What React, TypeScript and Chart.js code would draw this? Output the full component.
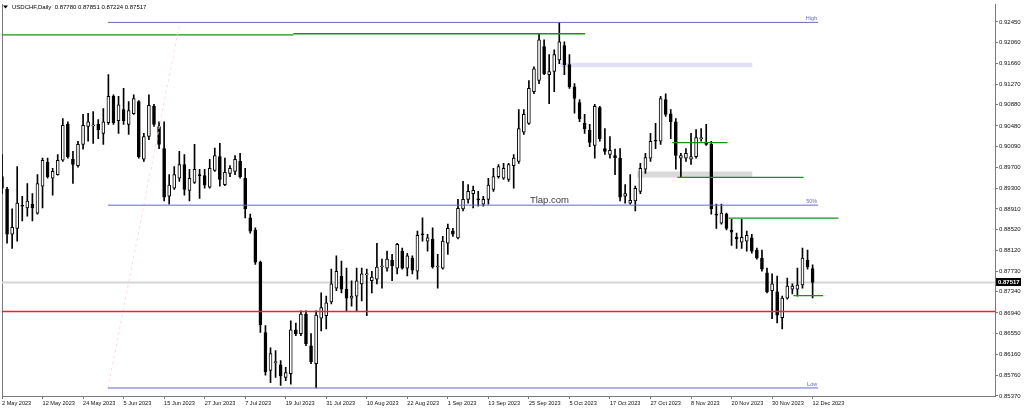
import React, { useEffect, useRef } from 'react';
import { Chart, registerables } from 'chart.js';

Chart.register(...registerables);

// ---------- data ----------
const symbolName = 'USDCHF';
const periodName = 'Daily';

const dateTickIndex = [0, 8, 16, 24, 32, 40, 48, 56, 64, 72, 80, 88, 96, 104, 112, 120, 128, 136, 144, 152, 160];
const dateTickLabels = [
  '2 May 2023', '12 May 2023', '24 May 2023', '5 Jun 2023', '15 Jun 2023', '27 Jun 2023', '7 Jul 2023',
  '19 Jul 2023', '31 Jul 2023', '10 Aug 2023', '22 Aug 2023', '1 Sep 2023', '13 Sep 2023', '25 Sep 2023',
  '5 Oct 2023', '17 Oct 2023', '27 Oct 2023', '8 Nov 2023', '20 Nov 2023', '30 Nov 2023', '12 Dec 2023',
];

const priceTicks = [
  0.9245, 0.9206, 0.9166, 0.9127, 0.9088, 0.9048, 0.9009, 0.897, 0.893, 0.8891,
  0.8852, 0.8812, 0.8773, 0.8734, 0.8694, 0.8655, 0.8616, 0.8576, 0.8537,
];

const openP = [
  0.8952, 0.8928, 0.8843, 0.8854, 0.8897, 0.8893, 0.8900, 0.8883, 0.8934, 0.8979,
  0.8949, 0.8956, 0.8983, 0.9051, 0.8985, 0.8973, 0.9013, 0.9047, 0.9048, 0.9051,
  0.9034, 0.9054, 0.9104, 0.9058, 0.9079, 0.9051, 0.9071, 0.9094, 0.8985, 0.9028,
  0.9085, 0.9047, 0.9005, 0.8915, 0.8930, 0.8949, 0.8975, 0.8926, 0.8941, 0.8956,
  0.8954, 0.8932, 0.8964, 0.8990, 0.8937, 0.8958, 0.8962, 0.8981, 0.8949, 0.8874,
  0.8851, 0.8790, 0.8657, 0.8585, 0.8600, 0.8596, 0.8572, 0.8579, 0.8662, 0.8655,
  0.8692, 0.8632, 0.8598, 0.8684, 0.8689, 0.8715, 0.8741, 0.8764, 0.8739, 0.8722,
  0.8726, 0.8749, 0.8766, 0.8755, 0.8758, 0.8781, 0.8779, 0.8794, 0.8779, 0.8811,
  0.8779, 0.8798, 0.8773, 0.8843, 0.8830, 0.8834, 0.8781, 0.8779, 0.8826, 0.8849,
  0.8836, 0.8891, 0.8909, 0.8920, 0.8909, 0.8900, 0.8909, 0.8928, 0.8952, 0.8949,
  0.8947, 0.8973, 0.8981, 0.9036, 0.9053, 0.9113, 0.9134, 0.9198, 0.9145, 0.9151,
  0.9173, 0.9200, 0.9164, 0.9122, 0.9092, 0.9053, 0.9040, 0.9011, 0.9083, 0.9005,
  0.8994, 0.8992, 0.8987, 0.8915, 0.8902, 0.8906, 0.8924, 0.8966, 0.8987, 0.9021,
  0.9019, 0.9098, 0.9071, 0.9056, 0.8987, 0.8987, 0.8985, 0.8990, 0.9024, 0.9017,
  0.9013, 0.8881, 0.8864, 0.8881, 0.8851, 0.8837, 0.8828, 0.8830, 0.8836, 0.8813,
  0.8798, 0.8770, 0.8736, 0.8734, 0.8685, 0.8722, 0.8739, 0.8739, 0.8747, 0.8794,
  0.8778,
];
const highP = [
  0.8994, 0.8932, 0.8891, 0.8971, 0.8915, 0.8939, 0.8920, 0.8956, 0.8987, 0.8987,
  0.8968, 0.8994, 0.9062, 0.9056, 0.9000, 0.9019, 0.9070, 0.9072, 0.9075, 0.9060,
  0.9081, 0.9145, 0.9107, 0.9104, 0.9119, 0.9094, 0.9107, 0.9096, 0.9034, 0.9107,
  0.9089, 0.9056, 0.9056, 0.8956, 0.8971, 0.9000, 0.8994, 0.8966, 0.9013, 0.8966,
  0.8966, 0.8985, 0.9006, 0.9015, 0.8987, 0.8973, 0.8992, 0.8996, 0.8968, 0.8881,
  0.8855, 0.8792, 0.8670, 0.8628, 0.8623, 0.8604, 0.8591, 0.8679, 0.8675, 0.8698,
  0.8698, 0.8655, 0.8698, 0.8732, 0.8726, 0.8777, 0.8802, 0.8792, 0.8779, 0.8755,
  0.8779, 0.8779, 0.8777, 0.8773, 0.8826, 0.8796, 0.8811, 0.8805, 0.8826, 0.8817,
  0.8807, 0.8802, 0.8849, 0.8874, 0.8843, 0.8855, 0.8805, 0.8839, 0.8862, 0.8854,
  0.8909, 0.8943, 0.8937, 0.8934, 0.8924, 0.8915, 0.8949, 0.8968, 0.8975, 0.8977,
  0.8977, 0.8994, 0.9079, 0.9079, 0.9134, 0.9160, 0.9222, 0.9211, 0.9183, 0.9192,
  0.9244, 0.9207, 0.9183, 0.9128, 0.9098, 0.9070, 0.9051, 0.9089, 0.9085, 0.9043,
  0.9028, 0.9004, 0.9005, 0.8937, 0.8956, 0.8934, 0.8977, 0.8996, 0.9034, 0.9053,
  0.9104, 0.9109, 0.9079, 0.9062, 0.8996, 0.9005, 0.9034, 0.9041, 0.9043, 0.9051,
  0.9019, 0.8900, 0.8900, 0.8883, 0.8871, 0.8845, 0.8871, 0.8849, 0.8843, 0.8817,
  0.8813, 0.8779, 0.8768, 0.8764, 0.8726, 0.8760, 0.8749, 0.8779, 0.8817, 0.8813,
  0.87851,
];
const lowP = [
  0.8920, 0.8826, 0.8816, 0.8830, 0.8868, 0.8877, 0.8868, 0.8881, 0.8893, 0.8949,
  0.8917, 0.8955, 0.8981, 0.8987, 0.8939, 0.8970, 0.9004, 0.9019, 0.9015, 0.9024,
  0.9013, 0.9051, 0.9051, 0.9034, 0.9051, 0.9032, 0.9070, 0.8987, 0.8981, 0.9022,
  0.9047, 0.9005, 0.8906, 0.8900, 0.8928, 0.8943, 0.8917, 0.8906, 0.8939, 0.8911,
  0.8930, 0.8930, 0.8962, 0.8934, 0.8935, 0.8952, 0.8956, 0.8949, 0.8874, 0.8845,
  0.8786, 0.8657, 0.8576, 0.8562, 0.8572, 0.8557, 0.8566, 0.8559, 0.8651, 0.8651,
  0.8632, 0.8598, 0.8552, 0.8660, 0.8664, 0.8711, 0.8736, 0.8732, 0.8698, 0.8707,
  0.8698, 0.8717, 0.8689, 0.8732, 0.8749, 0.8741, 0.8773, 0.8755, 0.8768, 0.8777,
  0.8764, 0.8768, 0.8758, 0.8830, 0.8811, 0.8779, 0.8741, 0.8777, 0.8805, 0.8839,
  0.8834, 0.8887, 0.8902, 0.8893, 0.8896, 0.8896, 0.8900, 0.8924, 0.8949, 0.8947,
  0.8943, 0.8930, 0.8977, 0.9032, 0.9051, 0.9109, 0.9128, 0.9145, 0.9090, 0.9113,
  0.9166, 0.9145, 0.9119, 0.9072, 0.9056, 0.9034, 0.9009, 0.8987, 0.9019, 0.8994,
  0.8987, 0.8956, 0.8906, 0.8902, 0.8900, 0.8887, 0.8920, 0.8958, 0.8981, 0.9005,
  0.9013, 0.9066, 0.9024, 0.8966, 0.8951, 0.8981, 0.8975, 0.8987, 0.9019, 0.9011,
  0.8881, 0.8854, 0.8862, 0.8851, 0.8822, 0.8816, 0.8816, 0.8811, 0.8807, 0.8796,
  0.8773, 0.8732, 0.8683, 0.8675, 0.8664, 0.8720, 0.8730, 0.8726, 0.8741, 0.8777,
  0.87224,
];
const closeP = [
  0.8930, 0.8843, 0.8856, 0.8902, 0.8896, 0.8906, 0.8893, 0.8939, 0.8983, 0.8952,
  0.8962, 0.8983, 0.9049, 0.8990, 0.8975, 0.9013, 0.9049, 0.9056, 0.9050, 0.9041,
  0.9056, 0.9104, 0.9054, 0.9088, 0.9058, 0.9077, 0.9100, 0.8990, 0.9028, 0.9087,
  0.9051, 0.9013, 0.8913, 0.8936, 0.8956, 0.8975, 0.8928, 0.8949, 0.8966, 0.8954,
  0.8936, 0.8968, 0.8992, 0.8947, 0.8960, 0.8968, 0.8985, 0.8952, 0.8891, 0.8849,
  0.8790, 0.8672, 0.8583, 0.8617, 0.8602, 0.8575, 0.8581, 0.8662, 0.8655, 0.8692,
  0.8636, 0.8602, 0.8690, 0.8704, 0.8713, 0.8749, 0.8773, 0.8739, 0.8722, 0.8726,
  0.8755, 0.8768, 0.8767, 0.8762, 0.8781, 0.8782, 0.8796, 0.8783, 0.8824, 0.8779,
  0.8802, 0.8775, 0.8841, 0.8842, 0.8836, 0.8781, 0.8782, 0.8830, 0.8854, 0.8843,
  0.8892, 0.8909, 0.8924, 0.8926, 0.8908, 0.8909, 0.8936, 0.8952, 0.8971, 0.8968,
  0.8975, 0.8987, 0.9043, 0.9070, 0.9119, 0.9156, 0.9211, 0.9147, 0.9151, 0.9183,
  0.9207, 0.9164, 0.9122, 0.9100, 0.9062, 0.9043, 0.9017, 0.9085, 0.9024, 0.9000,
  0.9002, 0.8988, 0.8913, 0.8920, 0.8907, 0.8930, 0.8968, 0.8988, 0.9019, 0.9019,
  0.9100, 0.9070, 0.9056, 0.8992, 0.8992, 0.8996, 0.8990, 0.9026, 0.9025, 0.9013,
  0.8891, 0.8879, 0.8883, 0.8854, 0.8847, 0.8834, 0.8837, 0.8841, 0.8811, 0.8798,
  0.8777, 0.8734, 0.8749, 0.8690, 0.8722, 0.8745, 0.8745, 0.8747, 0.8798, 0.8781,
  0.87517,
];

// drawn objects (bar-index / price coordinates)
const fibNames = ['High', '50%', 'Low'];
const fibPrices = [0.9244, 0.8898, 0.8552];
const fibStart = 20.9;
const fibEnd = 161.1;
const fibDiagX = [20.9, 35.1];
const fibDiagY = [0.8552, 0.9244];

const greenStart = [-3, 57.5, 132.3, 133.3, 143.4, 156.2];
const greenEnd = [57.5, 115.1, 143.2, 158.2, 165.1, 162.1];
const greenPrice = [0.92205, 0.92225, 0.90165, 0.89507, 0.88736, 0.87269];

const redPrice = 0.86968;

const zoneStart = [110.2, 125.4];
const zoneEnd = [148.1, 148.1];
const zonePrice = [0.91632, 0.89563];

const watermark = 'Tlap.com';
const watermarkX = 104.2;
const watermarkPrice = 0.8907;

// ---------- styling ----------
const FONT = '"Liberation Sans", Arial, sans-serif';
const fibColor = '#6666cc';
const greenColor = '#14921a';
const axisColor = '#7a7a7a';

const overlayPlugin = {
  id: 'mt4Overlay',
  afterDraw(chart: any) {
    const { ctx, chartArea, scales } = chart;
    const xs = scales.x;
    const ys = scales.y;
    const last = closeP.length - 1;
    ctx.save();
    // header
    ctx.fillStyle = '#000';
    ctx.beginPath();
    ctx.moveTo(3, 5.5);
    ctx.lineTo(8, 5.5);
    ctx.lineTo(5.5, 8.5);
    ctx.closePath();
    ctx.fill();
    ctx.font = `6px ${FONT}`;
    ctx.textAlign = 'left';
    ctx.textBaseline = 'middle';
    const header = `${symbolName},${periodName}  ${openP[last].toFixed(5)} ${highP[last].toFixed(5)} ${lowP[last].toFixed(5)} ${closeP[last].toFixed(5)}`;
    ctx.fillText(header, 12, 7);

    // watermark text
    ctx.font = `9.5px ${FONT}`;
    ctx.fillStyle = '#3a3a3a';
    ctx.fillText(watermark, xs.getPixelForValue(watermarkX), ys.getPixelForValue(watermarkPrice));

    // fib labels
    ctx.font = `5.5px ${FONT}`;
    ctx.fillStyle = fibColor;
    ctx.textAlign = 'right';
    ctx.textBaseline = 'bottom';
    fibPrices.forEach((p, k) => {
      ctx.fillText(fibNames[k], xs.getPixelForValue(fibEnd) - 1, ys.getPixelForValue(p) - 1);
    });

    // current price box
    const yb = ys.getPixelForValue(closeP[last]);
    ctx.fillStyle = '#000';
    ctx.fillRect(chartArea.right + 1, Math.round(yb) - 4, 25, 8);
    ctx.fillStyle = '#fff';
    ctx.font = `bold 6px ${FONT}`;
    ctx.textAlign = 'left';
    ctx.textBaseline = 'middle';
    ctx.fillText(closeP[last].toFixed(5), chartArea.right + 3, Math.round(yb));
    ctx.restore();
  },
};

export default function App() {
  const ref = useRef<HTMLCanvasElement>(null);

  useEffect(() => {
    const canvas = ref.current;
    if (!canvas) return;

    const hline = (x0: number, x1: number, p: number) => [
      { x: x0, y: p },
      { x: x1, y: p },
    ];
    const bodyColors = openP.map((o, i) => (closeP[i] >= o ? '#ffffff' : '#000000'));
    const wickData = lowP.map((l, i) => ({ x: i, y: [l, highP[i]] }));
    const bodyData = openP.map((o, i) => ({ x: i, y: [o, closeP[i]] }));

    const datasets: any[] = [];
    // background objects
    datasets.push({
      type: 'line', data: hline(-5, 200, closeP[closeP.length - 1]), borderColor: '#d6d6d6',
      borderWidth: 2, pointRadius: 0, order: 5,
    });
    datasets.push({
      type: 'line', data: hline(zoneStart[0], zoneEnd[0], zonePrice[0]), borderColor: '#e0e0f6',
      borderWidth: 4.5, pointRadius: 0, borderCapStyle: 'butt', order: 5,
    });
    datasets.push({
      type: 'line', data: hline(zoneStart[1], zoneEnd[1], zonePrice[1]), borderColor: '#dadada',
      borderWidth: 6, pointRadius: 0, borderCapStyle: 'butt', order: 5,
    });
    // candles
    datasets.push({
      type: 'bar', data: wickData, backgroundColor: '#000000', borderWidth: 0,
      barThickness: 1, maxBarThickness: 1, grouped: false, order: 2,
    });
    datasets.push({
      type: 'bar', data: bodyData, backgroundColor: bodyColors, borderColor: '#000000', borderWidth: 1,
      borderSkipped: false, barThickness: 3, maxBarThickness: 3, minBarLength: 1, grouped: false, order: 1,
    });
    // foreground lines
    datasets.push({
      type: 'line', data: hline(-5, 200, redPrice), borderColor: '#e5262b', borderWidth: 1.5,
      pointRadius: 0, order: 0,
    });
    fibPrices.forEach((p) => {
      datasets.push({
        type: 'line', data: hline(fibStart, fibEnd, p), borderColor: fibColor, borderWidth: 1,
        pointRadius: 0, order: 0,
      });
    });
    datasets.push({
      type: 'line',
      data: [
        { x: fibDiagX[0], y: fibDiagY[0] },
        { x: fibDiagX[1], y: fibDiagY[1] },
      ],
      borderColor: '#f9dde3', borderWidth: 1, borderDash: [3, 3], pointRadius: 0, order: 0,
    });
    greenPrice.forEach((p, k) => {
      datasets.push({
        type: 'line', data: hline(greenStart[k], greenEnd[k], p), borderColor: greenColor,
        borderWidth: 1.3, pointRadius: 0, order: 0,
      });
    });

    const chart = new Chart(canvas, {
      type: 'bar',
      data: { datasets },
      plugins: [overlayPlugin],
      options: {
        animation: false,
        responsive: false,
        maintainAspectRatio: false,
        devicePixelRatio: 1,
        events: [],
        layout: { padding: { left: 2, top: 2, right: 0, bottom: 0 } },
        plugins: { legend: { display: false }, tooltip: { enabled: false }, title: { display: false } },
        scales: {
          x: {
            type: 'linear',
            position: 'bottom',
            min: 0,
            max: 196,
            offset: false,
            afterBuildTicks: (s: any) => {
              s.ticks = dateTickIndex.map((v) => ({ value: v }));
            },
            afterFit: (s: any) => {
              s.height = 16;
            },
            grid: { display: true, drawOnChartArea: false, drawTicks: true, tickLength: 3, color: axisColor, offset: false },
            border: { display: true, color: axisColor },
            ticks: {
              autoSkip: false,
              maxRotation: 0,
              minRotation: 0,
              align: 'start',
              padding: 1,
              color: '#111',
              font: { family: FONT, size: 5.6 },
              callback: (_v: any, idx: number) => dateTickLabels[idx],
            },
          },
          y: {
            type: 'linear',
            position: 'right',
            min: 0.85368,
            max: 0.92777,
            afterBuildTicks: (s: any) => {
              s.ticks = priceTicks.map((v) => ({ value: v }));
            },
            afterFit: (s: any) => {
              s.width = 29;
            },
            grid: { display: true, drawOnChartArea: false, drawTicks: true, tickLength: 3, color: axisColor },
            border: { display: true, color: axisColor },
            ticks: {
              padding: 1,
              crossAlign: 'near',
              color: '#111',
              font: { family: FONT, size: 6 },
              callback: (v: any) => Number(v).toFixed(5),
            },
          },
          yl: {
            type: 'linear',
            position: 'left',
            display: true,
            min: 0,
            max: 1,
            afterFit: (s: any) => {
              s.width = 0;
            },
            grid: { display: false },
            border: { display: true, color: axisColor },
            ticks: { display: false },
          },
        },
      } as any,
    });

    return () => chart.destroy();
  }, []);

  return (
    <div style={{ position: 'absolute', left: 0, top: 0, width: 1024, height: 412, background: '#fff' }}>
      <canvas ref={ref} width={1024} height={412} style={{ display: 'block', width: 1024, height: 412 }} />
    </div>
  );
}
